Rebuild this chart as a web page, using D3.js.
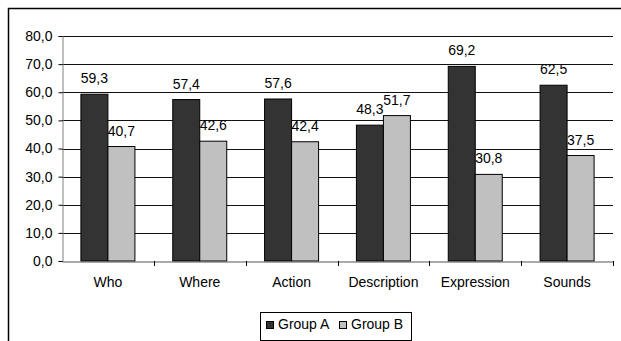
<!DOCTYPE html>
<html>
<head>
<meta charset="utf-8">
<script src="https://cdn.jsdelivr.net/npm/d3@7"></script>
<style>
  html, body { margin: 0; padding: 0; background: #fff; }
  svg { display: block; font-family: "Liberation Sans", Arial, sans-serif; }
</style>
</head>
<body>
<svg id="chart" width="621" height="341"></svg>
<script>
const categories = ["Who", "Where", "Action", "Description", "Expression", "Sounds"];
const seriesNames = ["Group A", "Group B"];
const groupA = [59.3, 57.4, 57.6, 48.3, 69.2, 62.5];
const groupB = [40.7, 42.6, 42.4, 51.7, 30.8, 37.5];
const yTicks = [0, 10, 20, 30, 40, 50, 60, 70, 80];
const colors = ["#333333", "#c0c0c0"];

const fmt = v => d3.format(".1f")(v).replace(".", ",");
const fontSize = 14;

const svg = d3.select("#chart");

// outer chart frame
svg.append("rect")
  .attr("x", 8.5).attr("y", 8.5)
  .attr("width", 640).attr("height", 360)
  .attr("fill", "none").attr("stroke", "#000").attr("stroke-width", 1.5);

const plotLeft = 62, plotRight = 613, plotTop = 36, plotBottom = 261;

const x = d3.scaleBand().domain(categories).range([plotLeft, plotRight]).paddingInner(0).paddingOuter(0);
const y = d3.scaleLinear().domain([0, 80]).range([plotBottom, plotTop]);

// horizontal gridlines
svg.append("g").selectAll("line").data(yTicks.filter(d => d > 0)).join("line")
  .attr("x1", plotLeft).attr("x2", plotRight)
  .attr("y1", d => Math.round(y(d)) + 0.5).attr("y2", d => Math.round(y(d)) + 0.5)
  .attr("stroke", "#111").attr("stroke-width", 1);

// y axis
const yAxis = d3.axisLeft(y).tickValues(yTicks).tickFormat(fmt).tickSize(4).tickPadding(6);
const gy = svg.append("g").attr("transform", `translate(${plotLeft + 0.5},0)`).call(yAxis);
gy.select(".domain").attr("stroke", "#808080");
gy.selectAll(".tick line").attr("stroke", "#000");
gy.selectAll(".tick text").attr("font-size", fontSize).attr("fill", "#000")
  .attr("font-family", "Liberation Sans, Arial, sans-serif");

// bars
const barW = 27;
const groups = svg.append("g").selectAll("g").data(categories).join("g")
  .attr("transform", d => `translate(${x(d) + x.bandwidth() / 2},0)`);

[groupA, groupB].forEach((vals, si) => {
  groups.append("rect")
    .attr("x", si === 0 ? -barW : 0)
    .attr("y", (d, i) => y(vals[i]))
    .attr("width", barW)
    .attr("height", (d, i) => y(0) - y(vals[i]))
    .attr("fill", colors[si])
    .attr("stroke", "#000").attr("stroke-width", 1);
  groups.append("text")
    .attr("x", si === 0 ? -barW / 2 : barW / 2)
    .attr("y", (d, i) => y(vals[i]) - 11)
    .attr("text-anchor", "middle")
    .attr("font-size", fontSize)
    .text((d, i) => fmt(vals[i]));
});

// x axis
const xAxis = d3.axisBottom(x).tickSize(0).tickPadding(16);
const gx = svg.append("g").attr("transform", `translate(0,${plotBottom + 0.5})`).call(xAxis);
gx.select(".domain").attr("stroke", "#555");
gx.selectAll(".tick text").attr("font-size", fontSize).attr("fill", "#000")
  .attr("font-family", "Liberation Sans, Arial, sans-serif");
// category separator ticks
svg.append("g").selectAll("line").data(categories).join("line")
  .attr("x1", d => Math.round(x(d) + x.bandwidth()) + 0.5)
  .attr("x2", d => Math.round(x(d) + x.bandwidth()) + 0.5)
  .attr("y1", plotBottom).attr("y2", plotBottom + 5)
  .attr("stroke", "#000");

// legend
const lg = svg.append("g").attr("transform", "translate(260,312)");
lg.append("rect").attr("x", 0.5).attr("y", 0.5).attr("width", 151).attr("height", 28)
  .attr("fill", "#fff").attr("stroke", "#000");
const items = [{ name: seriesNames[0], x: 6 }, { name: seriesNames[1], x: 79 }];
items.forEach((it, i) => {
  lg.append("rect").attr("x", it.x + 0.5).attr("y", 9.5).attr("width", 7).attr("height", 7)
    .attr("fill", colors[i]).attr("stroke", "#000");
  lg.append("text").attr("x", it.x + 12).attr("y", 16.5).attr("font-size", fontSize).text(it.name);
});
</script>
</body>
</html>
